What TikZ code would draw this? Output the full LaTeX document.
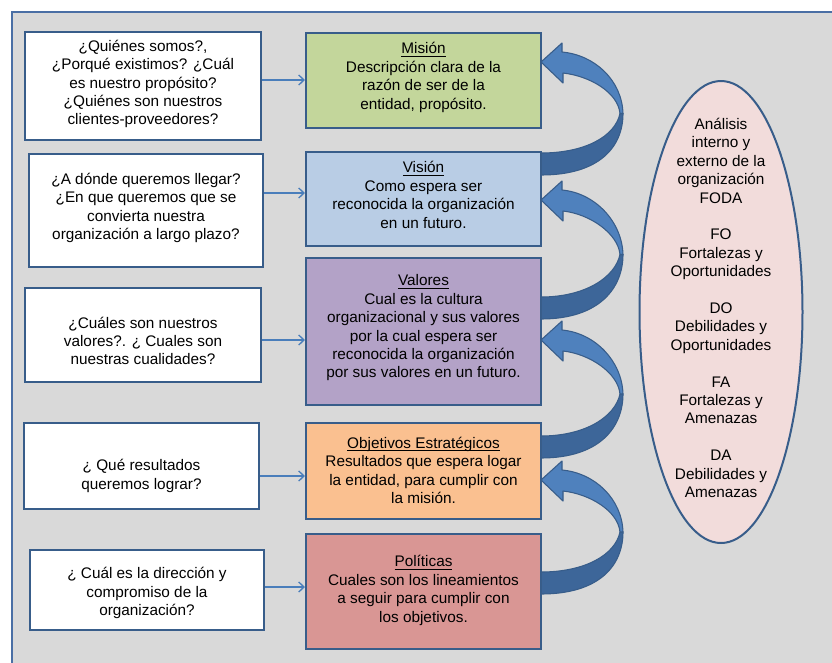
\documentclass[tikz,border=0pt]{standalone}
\usepackage{fontspec}
\setmainfont{Liberation Sans}
\usetikzlibrary{arrows.meta,shapes.geometric}

\definecolor{panel}{HTML}{D9D9D9}
\definecolor{panelline}{HTML}{4A6FA5}
\definecolor{edge}{HTML}{385D8A}
\definecolor{mision}{HTML}{C3D69B}
\definecolor{vision}{HTML}{B9CDE5}
\definecolor{valores}{HTML}{B3A2C7}
\definecolor{objetivos}{HTML}{FAC090}
\definecolor{politicas}{HTML}{D99694}
\definecolor{foda}{HTML}{F2DCDB}
\definecolor{ribbonfront}{HTML}{4F81BD}
\definecolor{ribbonback}{HTML}{3D6699}
\definecolor{link}{HTML}{4A7EBB}

% underlined box title whose rule ignores descenders
\newcommand\boxtitle[1]{\underline{\raisebox{0pt}[\height][0pt]{#1}}}

% curved block arrow: tip at y=#1 on the upper box, tail entering the lower box at y=#2
\newcommand\ribbonarrow[2]{%
  \pgfmathsetmacro\rp{(#1+#2)/2+6}%
  \fill[ribbonback, draw=edge, line width=0.8pt, line join=round]
    (623,\rp) .. controls (623,\rp+33) and (600,#2+22) .. (541,#2+22)
    -- (541,#2) .. controls (585,#2) and (615,\rp+23) .. (620,\rp) -- cycle;
  \fill[ribbonfront, draw=edge, line width=0.8pt, line join=round]
    (563,#1+11) -- (563,#1+21) -- (541,#1) -- (562,#1-19) -- (562,#1-10)
    .. controls (595,#1-7) and (622,\rp-33) .. (623,\rp)
    -- (620,\rp) .. controls (618,\rp-21) and (590,#1+14) .. (563,#1+11) -- cycle;
}

\tikzset{
  card/.style 2 args={draw=edge, line width=1.5pt, inner sep=0pt,
    minimum width=#1*0.75pt, minimum height=#2*0.75pt},
  qcard/.style 2 args={card={#1}{#2}, fill=white},
  txt/.style={align=center, inner sep=0pt,
    font=\fontsize{11.5pt}{13.8pt}\selectfont},
  link/.style={draw=link, line width=1.1pt,
    -{Straight Barb[length=4pt,width=7.5pt,line width=1pt]}},
}

\begin{document}
\begin{tikzpicture}[x=0.75pt,y=-0.75pt]
\useasboundingbox (0,0) rectangle (832,662);
\clip (0,0) rectangle (832,662);

% background panel
\draw[fill=panel, draw=panelline, line width=1.5pt] (12,12) rectangle (860,690);

% curved arrows linking the stacked boxes
\ribbonarrow{62}{153}
\ribbonarrow{200}{297}
\ribbonarrow{340}{436}
\ribbonarrow{480}{572}

% question boxes
\node[qcard={236}{108}] (q1) at (143,86) {};
\node[qcard={234}{113}] (q2) at (146,210.5) {};
\node[qcard={236}{94}]  (q3) at (143,335) {};
\node[qcard={235}{86}]  (q4) at (141.5,466) {};
\node[qcard={234}{80}]  (q5) at (147,590) {};

% planning boxes
\node[card={235}{95},  fill=mision]    (m1) at (423.5,80.5) {};
\node[card={235}{94},  fill=vision]    (m2) at (423.5,199) {};
\node[card={235}{147}, fill=valores]   (m3) at (423.5,331.5) {};
\node[card={235}{96},  fill=objetivos] (m4) at (423.5,471) {};
\node[card={235}{115}, fill=politicas] (m5) at (423.5,591.5) {};

% question texts
\node[txt] (q1t) at (143,84) {¿Quiénes somos?,\\ ¿Porqué existimos? ¿Cuál\\ es nuestro propósito?\\ ¿Quiénes son nuestros\\ clientes-proveedores?};
\node[txt] (q2t) at (146,208) {¿A dónde queremos llegar?\\ ¿En que queremos que se\\ convierta nuestra\\ organización a largo plazo?};
\node[txt] (q3t) at (143,341) {¿Cuáles son nuestros\\ valores?. ¿ Cuales son\\ nuestras cualidades?};
\node[txt] (q4t) at (141.5,476) {¿ Qué resultados\\ queremos lograr?};
\node[txt] (q5t) at (147,593) {¿ Cuál es la dirección y\\ compromiso de la\\ organización?};

% planning texts
\node[txt] (m1t) at (423.5,77.5) {\boxtitle{Misión}\\ Descripción clara de la\\ razón de ser de la\\ entidad, propósito.};
\node[txt] (m2t) at (423.5,195) {\boxtitle{Visión}\\ Como espera ser\\ reconocida la organización\\ en un futuro.};
\node[txt] (m3t) at (423.5,328) {\boxtitle{Valores}\\ Cual es la cultura\\ organizacional y sus valores\\ por la cual\ espera ser\\ reconocida la organización\\ por sus valores\ en un futuro.};
\node[txt] (m4t) at (423.5,470.5) {\boxtitle{Objetivos Estratégicos}\\ Resultados que espera logar\\ la entidad, para cumplir con\\ la misión.};
\node[txt] (m5t) at (423.5,590.5) {\boxtitle{Políticas}\\ Cuales son los lineamientos\\ a seguir para cumplir con\\ los objetivos.};

% question-to-box connectors
\draw[link] (q1.east |- 0,80)  -- (m1.west |- 0,80);
\draw[link] (q2.east |- 0,193) -- (m2.west |- 0,193);
\draw[link] (q3.east |- 0,340) -- (m3.west |- 0,340);
\draw[link] (q4.east |- 0,476) -- (m4.west |- 0,476);
\draw[link] (q5.east |- 0,587) -- (m5.west |- 0,587);

% SWOT ellipse
\node[ellipse, draw=edge, line width=1.5pt, fill=foda, inner sep=0pt,
      minimum width=163*0.75pt, minimum height=462*0.75pt] (foda) at (721,312) {};
\node[txt] (fodat) at (721,308) {Análisis\\ interno y\\ externo de la\\ organización\\ FODA\\[13.8pt]
  FO\\ Fortalezas y\\ Oportunidades\\[13.8pt]
  DO\\ Debilidades y\\ Oportunidades\\[13.8pt]
  FA\\ Fortalezas y\\ Amenazas\\[13.8pt]
  DA\\ Debilidades y\\ Amenazas};
\end{tikzpicture}
\end{document}
